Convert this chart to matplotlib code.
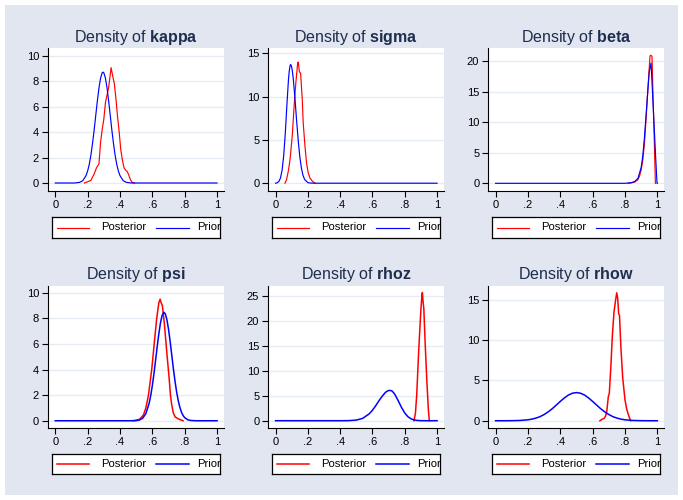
import matplotlib
matplotlib.use("Agg")
import matplotlib.pyplot as plt
from matplotlib.patches import Rectangle

plt.rcParams['font.family'] = ['Liberation Sans', 'DejaVu Sans']
plt.rcParams['mathtext.fontset'] = 'custom'
plt.rcParams['mathtext.rm'] = 'Liberation Sans'
plt.rcParams['mathtext.bf'] = 'Liberation Sans:bold'

# ---------------- data ----------------
params = ["kappa", "sigma", "beta", "psi", "rhoz", "rhow"]
legend_labels = ["Posterior", "Prior"]
xtick_vals = [0, 0.2, 0.4, 0.6, 0.8, 1.0]
xtick_labels = ["0", ".2", ".4", ".6", ".8", "1"]

kappa_post_x = [0.18, 0.2, 0.22, 0.24, 0.255, 0.27, 0.28, 0.29, 0.30, 0.31, 0.32, 0.33, 0.345,
                0.355, 0.365, 0.375, 0.385, 0.395, 0.405, 0.415, 0.425, 0.435, 0.445, 0.455,
                0.465, 0.475, 0.49]
kappa_post_y = [0, 0.1, 0.2, 0.7, 1.2, 1.5, 3.2, 4.2, 5.0, 6.3, 6.9, 7.5, 9.05,
                8.4, 7.8, 6.6, 5.2, 4.0, 2.6, 1.8, 1.2, 1.0, 0.9, 0.6, 0.25, 0.05, 0]
kappa_prior_x = [0, 0.12, 0.15, 0.17, 0.19, 0.20, 0.21, 0.22, 0.23, 0.24, 0.25, 0.26, 0.27,
                 0.28, 0.29, 0.295, 0.30, 0.31, 0.32, 0.33, 0.34, 0.35, 0.36, 0.37, 0.38,
                 0.39, 0.40, 0.42, 0.44, 0.47, 1.0]
kappa_prior_y = [0, 0, 0.05, 0.18, 0.58, 0.94, 1.46, 2.17, 3.08, 4.12, 5.28, 6.43, 7.45,
                 8.23, 8.65, 8.7, 8.65, 8.23, 7.45, 6.43, 5.28, 4.12, 3.08, 2.17, 1.46,
                 0.94, 0.58, 0.18, 0.05, 0, 0]

sigma_post_x = [0.058, 0.068, 0.08, 0.09, 0.1, 0.105, 0.115, 0.126, 0.137, 0.141, 0.147,
                0.155, 0.165, 0.171, 0.182, 0.192, 0.202, 0.213, 0.229, 0.245]
sigma_post_y = [0, 0.4, 1.5, 2.8, 4.8, 5.9, 9.0, 11.7, 13.9, 14.0, 12.9,
                12.7, 9.8, 7.0, 4.3, 2.3, 1.2, 0.6, 0.2, 0.0]
sigma_prior_x = [0, 0.01, 0.02, 0.03, 0.04, 0.05, 0.06, 0.07, 0.08, 0.085, 0.09, 0.093, 0.095,
                 0.10, 0.105, 0.11, 0.12, 0.13, 0.14, 0.15, 0.16, 0.17, 0.18, 0.2, 0.22, 0.25,
                 1.0]
sigma_prior_y = [0, 0.05, 0.19, 0.58, 1.45, 3.1, 5.7, 9.0, 12.0, 13.0, 13.6, 13.7, 13.68,
                 13.4, 12.8, 12.0, 9.8, 7.3, 5.0, 3.07, 1.74, 0.9, 0.43, 0.07, 0.01, 0,
                 0]

beta_post_x = [0.82, 0.86, 0.88, 0.89, 0.9, 0.91, 0.92, 0.93, 0.94, 0.95, 0.955, 0.96,
               0.967, 0.972, 0.98, 0.988]
beta_post_y = [0, 0.2, 0.6, 1.2, 2.2, 3.8, 6.5, 10.5, 14.8, 19.0, 20.9, 21.0,
               20.8, 15.5, 8.0, 0]
beta_prior_x = [0, 0.8, 0.84, 0.86, 0.88, 0.9, 0.91, 0.92, 0.93, 0.94, 0.95, 0.961, 0.97,
                0.98, 0.99, 0.998, 1.0]
beta_prior_y = [0, 0, 0.1, 0.3, 0.8, 2.6, 4.5, 7.4, 11.0, 14.8, 18.3, 19.7, 15.0,
                9.5, 4.0, 0, 0]

psi_post_x = [0.483, 0.52, 0.545, 0.56, 0.576, 0.597, 0.613, 0.627, 0.64, 0.648, 0.655,
              0.662, 0.675, 0.689, 0.704, 0.712, 0.72, 0.73, 0.741, 0.76, 0.79]
psi_post_y = [0, 0.1, 0.45, 1.0, 2.0, 4.1, 6.2, 8.0, 9.2, 9.5, 9.2,
              9.0, 7.5, 5.4, 3.3, 2.0, 1.23, 0.6, 0.3, 0.15, 0.0]
psi_prior_x = [0, 0.46, 0.5, 0.52, 0.54, 0.56, 0.58, 0.59, 0.60, 0.61, 0.62, 0.63, 0.64, 0.65,
               0.66, 0.67, 0.672, 0.68, 0.69, 0.70, 0.71, 0.72, 0.73, 0.74, 0.75, 0.76, 0.77,
               0.78, 0.79, 0.80, 0.82, 0.84, 0.87, 1.0]
psi_prior_y = [0, 0, 0.01, 0.06, 0.19, 0.56, 1.35, 1.97, 2.75, 3.68, 4.72, 5.78, 6.78, 7.63,
               8.21, 8.46, 8.47, 8.35, 7.9, 7.15, 6.2, 5.14, 4.07, 3.1, 2.26, 1.58, 1.06,
               0.67, 0.41, 0.24, 0.07, 0.02, 0, 0]

rhoz_post_x = [0.857, 0.866, 0.874, 0.886, 0.899, 0.906, 0.909, 0.913, 0.918, 0.926, 0.936,
               0.946, 0.952]
rhoz_post_y = [0, 1.5, 5.1, 13.8, 21.8, 25.0, 25.7, 24.0, 22.5, 15.8, 8.5, 2.3, 0]
rhoz_prior_x = [0, 0.4, 0.45, 0.5, 0.54, 0.58, 0.60, 0.62, 0.64, 0.66, 0.68, 0.69, 0.70,
                0.709, 0.72, 0.73, 0.74, 0.76, 0.78, 0.80, 0.82, 0.84, 0.86, 0.88, 0.9, 0.93,
                1.0]
rhoz_prior_y = [0, 0, 0.016, 0.125, 0.48, 1.39, 2.1, 3.0, 4.0, 4.9, 5.66, 5.9, 6.05,
                6.08, 5.98, 5.65, 5.2, 3.97, 2.65, 1.55, 0.79, 0.36, 0.14, 0.05, 0.01, 0,
                0]

rhow_post_x = [0.645, 0.66, 0.672, 0.68, 0.687, 0.697, 0.703, 0.712, 0.722, 0.732, 0.742,
               0.749, 0.755, 0.761, 0.766, 0.775, 0.786, 0.8, 0.811, 0.825, 0.835]
rhow_post_y = [0, 0.2, 0.3, 0.6, 1.1, 3.0, 3.4, 6.5, 10.6, 13.5, 15.0,
               15.9, 15.2, 13.3, 13.1, 9.0, 5.3, 2.6, 1.4, 0.5, 0]
rhow_prior_x = [0, 0.05, 0.1, 0.15, 0.2, 0.225, 0.25, 0.275, 0.3, 0.325, 0.35, 0.375, 0.4,
                0.425, 0.45, 0.475, 0.5, 0.525, 0.55, 0.575, 0.6, 0.625, 0.65, 0.675, 0.7,
                0.725, 0.75, 0.775, 0.8, 0.85, 0.9, 0.95, 1.0]
rhow_prior_y = [0, 0, 0.008, 0.034, 0.116, 0.2, 0.33, 0.51, 0.77, 1.1, 1.49, 1.94, 2.4,
                2.83, 3.19, 3.42, 3.5, 3.42, 3.19, 2.83, 2.4, 1.94, 1.49, 1.1, 0.77,
                0.51, 0.33, 0.2, 0.116, 0.034, 0.008, 0, 0]

ytick_kappa = [0, 2, 4, 6, 8, 10]
ytick_sigma = [0, 5, 10, 15]
ytick_beta = [0, 5, 10, 15, 20]
ytick_psi = [0, 2, 4, 6, 8, 10]
ytick_rhoz = [0, 5, 10, 15, 20, 25]
ytick_rhow = [0, 5, 10, 15]

# ---------------- layout ----------------
W, H = 683, 500
fig = plt.figure(figsize=(W / 100, H / 100), dpi=100)
fig.patch.set_facecolor('white')
bg = Rectangle((5 / W, 5 / H), 673 / W, 490 / H, transform=fig.transFigure,
               facecolor='#E1E6F0', edgecolor='none', zorder=-10)
fig.add_artist(bg)


def fbox(l, t, r, b):
    return [l / W, 1 - b / H, (r - l) / W, (b - t) / H]


col_lr = [(48, 224), (268.3, 444), (488.3, 664.3)]
row_tb = [(48, 191), (285.7, 428.3)]
leg_left = [52.3, 272.3, 492.3]
leg_top = [217.3, 454]
leg_w, leg_h = 168, 20.4

panels = [
    (kappa_post_x, kappa_post_y, kappa_prior_x, kappa_prior_y, ytick_kappa, (-0.627, 10.59)),
    (sigma_post_x, sigma_post_y, sigma_prior_x, sigma_prior_y, ytick_sigma, (-0.90, 15.62)),
    (beta_post_x, beta_post_y, beta_prior_x, beta_prior_y, ytick_beta, (-1.26, 22.18)),
    (psi_post_x, psi_post_y, psi_prior_x, psi_prior_y, ytick_psi, (-0.59, 10.55)),
    (rhoz_post_x, rhoz_post_y, rhoz_prior_x, rhoz_prior_y, ytick_rhoz, (-1.52, 27.07)),
    (rhow_post_x, rhow_post_y, rhow_prior_x, rhow_prior_y, ytick_rhow, (-0.94, 16.78)),
]

title_color = '#1F2D4F'
grid_color = '#E6ECF4'

for i, (name, pan) in enumerate(zip(params, panels)):
    r, c = divmod(i, 3)
    px, py, qx, qy, yt, ylim = pan
    lw = 0.85 if r == 0 else 1.1
    l, rr = col_lr[c]
    t, b = row_tb[r]
    ax = fig.add_axes(fbox(l, t, rr, b))
    ax.set_facecolor('white')
    ax.plot(px, py, color='#FF0000', lw=lw, zorder=3)
    ax.plot(qx, qy, color='#0000FF', lw=lw, zorder=4)
    ax.set_xlim(-0.045, 1.043)
    ax.set_ylim(*ylim)
    ax.set_xticks(xtick_vals)
    ax.set_xticklabels(xtick_labels)
    ax.set_yticks(yt)
    ax.set_yticklabels([str(v) for v in yt])
    ax.grid(axis='y', color=grid_color, lw=1.0, zorder=1)
    ax.set_axisbelow(True)
    for s in ['top', 'right']:
        ax.spines[s].set_visible(False)
    for s in ['left', 'bottom']:
        ax.spines[s].set_color('black')
        ax.spines[s].set_linewidth(0.8)
    ax.tick_params(direction='out', length=4.5, width=0.8, labelsize=8, pad=2,
                   colors='black')
    ax.set_title(r'Density of $\bf{' + name + '}$', fontsize=11.5, color=title_color, pad=4.5)

    # legend box
    lax = fig.add_axes(fbox(leg_left[c], leg_top[r], leg_left[c] + leg_w, leg_top[r] + leg_h))
    lax.set_facecolor('white')
    lax.set_xlim(0, leg_w)
    lax.set_ylim(0, leg_h)
    lax.set_xticks([])
    lax.set_yticks([])
    for s in lax.spines.values():
        s.set_color('black')
        s.set_linewidth(0.9)
    ym = leg_h / 2
    lax.plot([5, 37], [ym, ym], color='#FF0000', lw=lw, clip_on=True)
    lax.text(48.4, ym, legend_labels[0], fontsize=8.1, va='center', ha='left', clip_on=True)
    lax.plot([103.7, 137], [ym, ym], color='#0000FF', lw=lw, clip_on=True)
    lax.text(144.4, ym, legend_labels[1], fontsize=8.1, va='center', ha='left', clip_on=True)

fig.savefig('out.png', dpi=100, facecolor='white')
